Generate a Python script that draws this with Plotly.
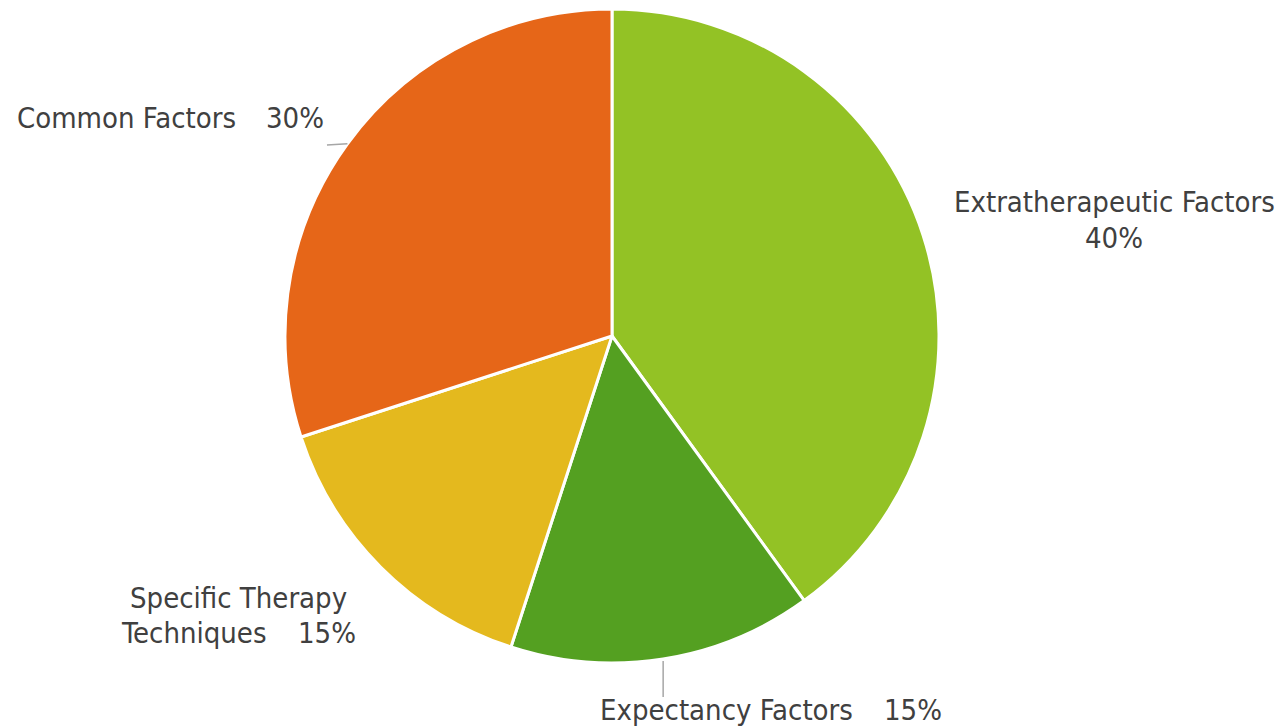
import math
import plotly.graph_objects as go

categories = ["Extratherapeutic Factors", "Expectancy Factors", "Specific Therapy Techniques", "Common Factors"]
values = [40, 15, 15, 30]
colors = ["#93C225", "#54A021", "#E4B91E", "#E66618"]

W, H = 1286, 728
CX, CY, R = 612, 336, 327
FONT = "DejaVu Sans Condensed, DejaVu Sans, sans-serif"
TXT = "#404040"
FS = 29

fig = go.Figure()
fig.add_trace(go.Pie(
    labels=categories, values=values, sort=False, direction="clockwise", rotation=0,
    marker=dict(colors=colors, line=dict(color="white", width=3)),
    textinfo="none", hoverinfo="label+percent", showlegend=False,
    domain=dict(x=[(CX - R) / W, (CX + R) / W], y=[1 - (CY + R) / H, 1 - (CY - R) / H]),
))

total = sum(values)
def mid_point(i, rr):
    start = sum(values[:i]) / total
    a = 2 * math.pi * (start + values[i] / total / 2)
    return CX + rr * math.sin(a), CY - rr * math.cos(a)

pct = [f"{round(v / total * 100)}%" for v in values]

# leader lines
ex, ey = mid_point(1, R)
fig.add_shape(type="line", x0=ex, y0=ey + 2, x1=ex, y1=697, xref="x", yref="y",
              line=dict(color="#A6A6A6", width=1.5))
cx_, cy_ = mid_point(3, R)
fig.add_shape(type="line", x0=cx_, y0=cy_, x1=327, y1=145, xref="x", yref="y",
              line=dict(color="#A6A6A6", width=1.5))

def ann(x, y, t, anchor):
    fig.add_annotation(x=x, y=y, text=t, xref="x", yref="y", showarrow=False,
                       xanchor=anchor, yanchor="middle",
                       font=dict(family=FONT, size=FS, color=TXT))

ann(1114, 202, categories[0], "center")
ann(1114, 238, pct[0], "center")
ann(598, 710, categories[1], "left")
ann(944, 710, pct[1], "right")
ann(238, 598, "Specific Therapy", "center")
ann(119, 633, "Techniques", "left")
ann(358, 633, pct[2], "right")
ann(15, 118, categories[3], "left")
ann(326, 118, pct[3], "right")

fig.update_layout(
    width=W, height=H, margin=dict(l=0, r=0, t=0, b=0),
    paper_bgcolor="white", plot_bgcolor="rgba(0,0,0,0)",
    xaxis=dict(range=[0, W], visible=False, fixedrange=True),
    yaxis=dict(range=[H, 0], visible=False, fixedrange=True),
)
fig.write_html("out.html")
